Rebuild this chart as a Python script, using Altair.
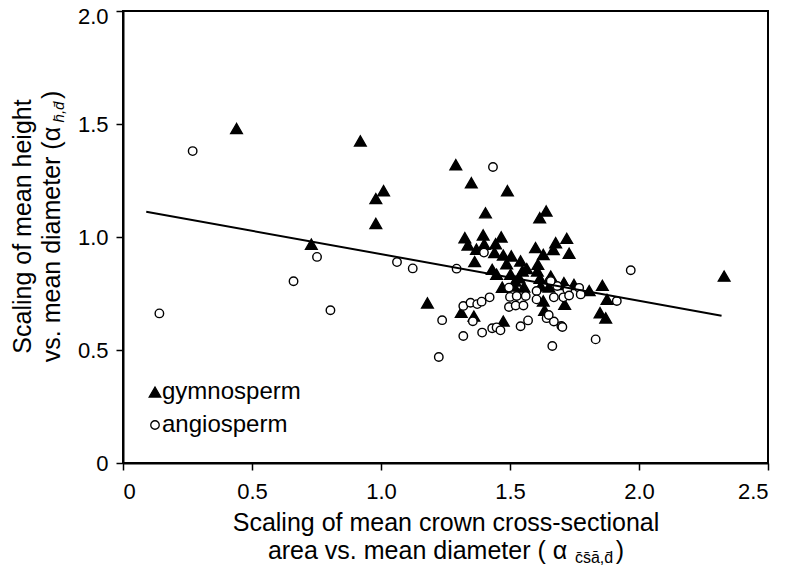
import altair as alt
import pandas as pd

# ---- data ----
gym_x = [0.44, 0.92, 1.01, 0.98, 0.98, 0.73, 1.18, 1.29, 1.35, 1.49, 1.405, 1.64, 1.615,
         1.325, 1.396, 1.466, 1.337, 1.37, 1.40, 1.444, 1.44, 1.474, 1.505, 1.363, 1.487,
         1.541, 1.599, 1.677, 1.72, 1.668, 1.729, 1.629, 1.608, 1.431, 1.448, 1.502, 1.548,
         1.535, 1.606, 1.616, 1.658, 1.709, 1.52, 1.565, 1.311, 1.36, 1.474, 1.47, 1.515,
         1.554, 1.619, 1.651, 1.629, 1.634, 1.712, 1.712, 1.748, 1.807, 1.858, 1.849, 1.871,
         1.876, 2.33]
gym_y = [1.48, 1.425, 1.205, 1.17, 1.06, 0.968, 0.708, 1.32, 1.24, 1.205, 1.107, 1.115, 1.085,
         0.997, 1.009, 1.0, 0.965, 0.946, 0.968, 0.97, 0.931, 0.92, 0.916, 0.891, 0.882,
         0.894, 0.953, 0.975, 0.994, 0.945, 0.928, 0.923, 0.879, 0.857, 0.835, 0.835, 0.85,
         0.82, 0.85, 0.817, 0.827, 0.798, 0.805, 0.86, 0.667, 0.65, 0.628, 0.778, 0.783,
         0.779, 0.783, 0.779, 0.717, 0.676, 0.702, 0.79, 0.79, 0.763, 0.786, 0.665, 0.642,
         0.724, 0.827]
ang_x = [0.27, 0.752, 0.661, 0.141, 0.804, 1.062, 1.123, 1.237, 1.224, 1.434, 1.399, 1.293,
         1.319, 1.319, 1.347, 1.373, 1.39, 1.421, 1.356, 1.392, 1.431, 1.448, 1.463, 1.541,
         1.57, 1.496, 1.5, 1.526, 1.561, 1.496, 1.522, 1.552, 1.603, 1.603, 1.642, 1.67,
         1.699, 1.664, 1.655, 1.683, 1.67, 1.707, 1.722, 1.768, 1.774, 1.729, 1.832, 1.914,
         1.968, 1.658, 1.703, 1.65]
ang_y = [1.38, 0.912, 0.804, 0.662, 0.676, 0.889, 0.861, 0.632, 0.469, 1.31, 0.931, 0.86,
         0.695, 0.562, 0.709, 0.703, 0.714, 0.733, 0.627, 0.577, 0.596, 0.6, 0.587, 0.605,
         0.631, 0.776, 0.735, 0.739, 0.739, 0.69, 0.697, 0.697, 0.761, 0.724, 0.641, 0.626,
         0.606, 0.518, 0.808, 0.783, 0.733, 0.733, 0.768, 0.775, 0.746, 0.741, 0.547, 0.717,
         0.853, 0.805, 0.602, 0.655]
fit_x = [0.09, 2.32]
fit_y = [1.112, 0.652]

groups = ["gymnosperm", "angiosperm"]
x_ticks = [0, 0.5, 1.0, 1.5, 2.0, 2.5]
y_ticks = [0, 0.5, 1.0, 1.5, 2.0]

NB = "\u00a0"
y_title = ["Scaling of mean height", "vs. mean diameter (\u03b1" + NB * 4 + ")"]
x_title = ["Scaling of mean crown cross-sectional", "area vs. mean diameter ( \u03b1" + NB * 7 + ")"]
y_sub = "h\u0304,d\u0304"
x_sub = "c\u0304s\u0304a\u0304,d\u0304"

# ---- tables ----
pts = pd.DataFrame({
    "x": gym_x + ang_x,
    "y": gym_y + ang_y,
    "group": [groups[0]] * len(gym_x) + [groups[1]] * len(ang_x),
})
fit = pd.DataFrame({"x": fit_x, "y": fit_y})

W, H = 645, 452
FONT = "Liberation Sans"
xs = alt.Scale(domain=[0, 2.5], nice=False, zero=False)
ys = alt.Scale(domain=[0, 2], nice=False)
label_expr = "datum.value == 0 ? '0' : format(datum.value, '.1f')"

x_axis = alt.Axis(values=x_ticks, labelExpr=label_expr, title=x_title,
                  titleX=W / 2, titleY=67, titleAlign="center", titleBaseline="alphabetic",
                  titleLineHeight=28, titleFontSize=25, titleFontWeight="normal",
                  labelFontSize=22, labelPadding=11, tickSize=7, grid=False)
y_axis = alt.Axis(values=y_ticks, labelExpr=label_expr, title=y_title,
                  titleX=-93, titleY=215, titleAlign="center", titleBaseline="alphabetic",
                  titleLineHeight=29, titleFontSize=25, titleFontWeight="normal",
                  labelFontSize=22, labelPadding=8, tickSize=7, grid=False,
                  labelOffset={"condition": {"test": "datum.value == 2", "value": 5}, "value": 0})

leg = alt.Legend(title=None, orient="none", legendX=20, legendY=369, labelFontSize=24,
                 labelFont=FONT, labelColor="black", labelOffset=alt.ExprRef("-5"),
                 rowPadding=9, padding=0,
                 symbolStrokeColor="black", symbolStrokeWidth=1.3)

points = alt.Chart(pts).mark_point(filled=True, strokeWidth=1.4, opacity=1).encode(
    x=alt.X("x:Q", scale=xs, axis=x_axis),
    y=alt.Y("y:Q", scale=ys, axis=y_axis),
    shape=alt.Shape("group:N", scale=alt.Scale(domain=groups, range=["triangle-up", "circle"]), legend=leg),
    fill=alt.Fill("group:N", scale=alt.Scale(domain=groups, range=["black", "white"]), legend=leg),
    stroke=alt.Stroke("group:N", scale=alt.Scale(domain=groups, range=["black", "black"]), legend=leg),
    size=alt.Size("group:N", scale=alt.Scale(domain=groups, range=[135, 72]), legend=leg),
)

line = alt.Chart(fit).mark_line(color="black", strokeWidth=2).encode(
    x=alt.X("x:Q", scale=xs),
    y=alt.Y("y:Q", scale=ys),
)

ysub = alt.Chart(pd.DataFrame({"t": [y_sub]})).mark_text(
    angle=270, fontSize=15, fontStyle="italic", font=FONT, align="center",
    baseline="alphabetic", color="black"
).encode(x=alt.value(-59), y=alt.value(101), text="t:N")

xsub = alt.Chart(pd.DataFrame({"t": [x_sub]})).mark_text(
    fontSize=16, font=FONT, align="center", baseline="alphabetic", color="black"
).encode(x=alt.value(471), y=alt.value(552), text="t:N")

chart = alt.layer(points, line, ysub, xsub).properties(
    width=W, height=H,
    autosize=alt.AutoSizeParams(type="none"),
    padding={"left": 115, "top": 3, "right": 10, "bottom": 103},
).configure(font=FONT).configure_view(
    stroke="black", strokeWidth=2
).configure_axis(
    domainColor="black", domainWidth=2, tickColor="black", tickWidth=1.5,
    labelColor="black", titleColor="black", labelFont=FONT, titleFont=FONT
)

chart.save("out.html", embed_options={"renderer": "svg", "actions": False})
